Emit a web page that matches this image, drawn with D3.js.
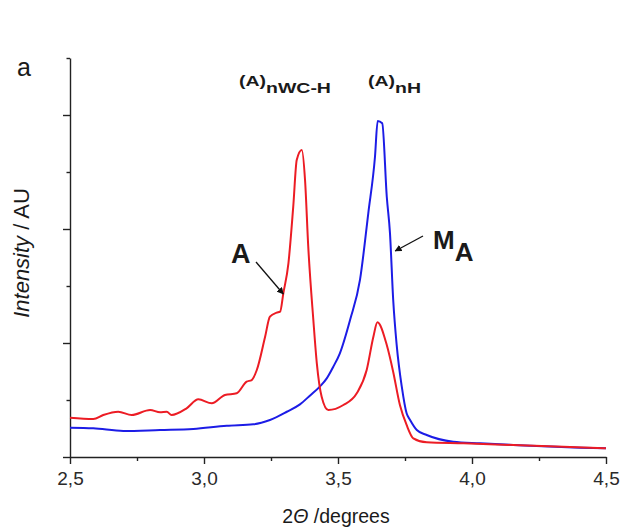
<!DOCTYPE html>
<html>
<head>
<meta charset="UTF-8">
<title>XRD intensity</title>
<script src="https://d3js.org/d3.v7.min.js"></script>
<style>
  body { margin: 0; background: #fff; font-family: "Liberation Sans", Arial, sans-serif; }
  svg text { fill: #1a1a1a; }
  .axis path, .axis line { stroke: #222; stroke-width: 1.4px; }
</style>
</head>
<body>
<div id="chart"></div>
<script>
// sample A (red)
const redX = [2.500, 2.587, 2.624, 2.680, 2.730, 2.799, 2.836, 2.861, 2.879, 2.935, 2.979, 3.029, 3.078, 3.122,
  3.159, 3.178, 3.197, 3.228, 3.246, 3.271, 3.284, 3.296, 3.315, 3.333, 3.346, 3.365, 3.377, 3.389, 3.408,
  3.421, 3.439, 3.464, 3.520, 3.570, 3.607, 3.632, 3.647, 3.682, 3.706, 3.731, 3.756, 3.781, 3.831, 3.968,
  4.154, 4.341, 4.500];
const redY = [0.345, 0.333, 0.368, 0.397, 0.368, 0.412, 0.392, 0.397, 0.368, 0.427, 0.506, 0.471, 0.544, 0.559,
  0.661, 0.675, 0.763, 1.055, 1.231, 1.266, 1.275, 1.436, 1.699, 2.196, 2.605, 2.693, 2.430, 1.845, 1.202,
  0.822, 0.529, 0.412, 0.456, 0.559, 0.763, 1.055, 1.182, 0.982, 0.746, 0.456, 0.281, 0.164, 0.129, 0.120,
  0.105, 0.090, 0.076];

// sample MA (blue)
const blueX = [2.500, 2.587, 2.699, 2.836, 2.960, 3.085, 3.184, 3.246, 3.309, 3.358, 3.396, 3.433, 3.458, 3.482,
  3.507, 3.545, 3.582, 3.613, 3.638, 3.648, 3.665, 3.682, 3.694, 3.706, 3.719, 3.738, 3.756, 3.769, 3.794,
  3.831, 3.930, 4.030, 4.216, 4.403, 4.500];
const blueY = [0.257, 0.252, 0.228, 0.237, 0.246, 0.275, 0.287, 0.325, 0.397, 0.462, 0.540, 0.620, 0.690, 0.790,
  0.910, 1.202, 1.553, 2.138, 2.634, 2.947, 2.927, 2.283, 1.962, 1.377, 0.982, 0.617, 0.383, 0.325, 0.237,
  0.193, 0.134, 0.120, 0.099, 0.082, 0.076];

const xMajor = [2.5, 3.0, 3.5, 4.0, 4.5];
const xMinor = [2.75, 3.25, 3.75, 4.25];
const xTickLabels = ["2,5", "3,0", "3,5", "4,0", "4,5"];
const yMajor = [0, 1, 2, 3];
const yMinor = [0.5, 1.5, 2.5, 3.5];

const width = 624, height = 531;
const margin = { left: 70, right: 18, top: 58, bottom: 74 };

const svg = d3.select("#chart").append("svg")
  .attr("width", width).attr("height", height);

const x = d3.scaleLinear().domain([2.5, 4.5]).range([margin.left, width - margin.right]);
const y = d3.scaleLinear().domain([0, 3.5]).range([height - margin.bottom, margin.top]);

// x axis: major + minor ticks
const xAxisG = svg.append("g").attr("class", "axis")
  .attr("transform", `translate(0,${y(0)})`);
xAxisG.call(d3.axisBottom(x).tickValues(xMajor).tickSize(7).tickSizeOuter(0)
  .tickFormat((d, i) => xTickLabels[i]));
xAxisG.selectAll("text").attr("font-size", 19).attr("dy", "0.95em")
  .attr("font-family", "Liberation Sans, Arial, sans-serif").style("fill", "#2a2a2a");
svg.append("g").attr("class", "axis").attr("transform", `translate(0,${y(0)})`)
  .call(d3.axisBottom(x).tickValues(xMinor).tickSize(4).tickFormat(""))
  .select(".domain").remove();

// y axis: no labels
const yAxisG = svg.append("g").attr("class", "axis")
  .attr("transform", `translate(${x(2.5)},0)`);
yAxisG.call(d3.axisLeft(y).tickValues(yMajor).tickSize(7).tickSizeOuter(0).tickFormat(""));
svg.append("g").attr("class", "axis").attr("transform", `translate(${x(2.5)},0)`)
  .call(d3.axisLeft(y).tickValues(yMinor).tickSize(3.5).tickFormat(""))
  .select(".domain").remove();

const line = d3.line().x(d => x(d[0])).y(d => y(d[1])).curve(d3.curveMonotoneX);

svg.append("path")
  .datum(blueX.map((v, i) => [v, blueY[i]]))
  .attr("fill", "none").attr("stroke", "#1c1ce6").attr("stroke-width", 2)
  .attr("stroke-linejoin", "round").attr("d", line);

svg.append("path")
  .datum(redX.map((v, i) => [v, redY[i]]))
  .attr("fill", "none").attr("stroke", "#ec1c24").attr("stroke-width", 2)
  .attr("stroke-linejoin", "round").attr("d", line);

// axis titles
svg.append("text")
  .attr("transform", `translate(29,253) rotate(-90)`)
  .attr("text-anchor", "middle").attr("font-size", 22)
  .html('<tspan font-style="italic">Intensity</tspan> / AU');

svg.append("text")
  .attr("x", 336).attr("y", 523).attr("text-anchor", "middle").attr("font-size", 19.5)
  .html('2<tspan font-style="italic">Θ</tspan> /degrees');

svg.append("text").attr("x", 17).attr("y", 76).attr("font-size", 25).text("a");

// peak labels (set wide, as in the original figure)
const peakLabel = (px, main, sub) => {
  const t = svg.append("text").attr("transform", `translate(${px},86) scale(1.3,1)`)
    .attr("font-size", 15).attr("font-weight", "bold");
  t.append("tspan").text(main);
  t.append("tspan").attr("dy", 7).text(sub);
};
peakLabel(239, "(A)", "nWC-H");
peakLabel(368, "(A)", "nH");

// arrows
svg.append("defs").append("marker")
  .attr("id", "arr").attr("viewBox", "0 0 10 10").attr("refX", 9).attr("refY", 5)
  .attr("markerWidth", 7).attr("markerHeight", 7).attr("orient", "auto")
  .attr("markerUnits", "userSpaceOnUse")
  .append("path").attr("d", "M0,0 L10,5 L0,10 Z").attr("fill", "#111");

svg.append("line")
  .attr("x1", 256).attr("y1", 262).attr("x2", x(3.296)).attr("y2", y(1.43))
  .attr("stroke", "#111").attr("stroke-width", 1.3).attr("marker-end", "url(#arr)");
svg.append("line")
  .attr("x1", 423).attr("y1", 236).attr("x2", x(3.706) + 2).attr("y2", 251)
  .attr("stroke", "#111").attr("stroke-width", 1.3).attr("marker-end", "url(#arr)");

svg.append("text").attr("x", 231).attr("y", 263).attr("font-size", 27)
  .attr("font-weight", "bold").text("A");

const ma = svg.append("text").attr("x", 433).attr("y", 249).attr("font-size", 26)
  .attr("font-weight", "bold");
ma.append("tspan").text("M");
ma.append("tspan").attr("dy", 12).attr("font-size", 26).text("A");
</script>
</body>
</html>
